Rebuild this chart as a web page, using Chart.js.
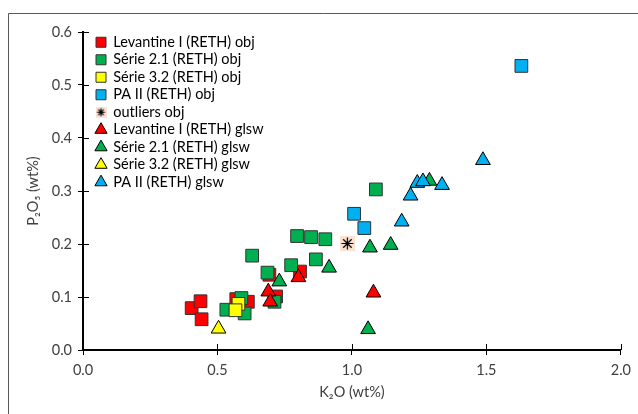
<!DOCTYPE html>
<html>
<head>
<meta charset="utf-8">
<script src="https://cdn.jsdelivr.net/npm/chart.js@4.4.1/dist/chart.umd.min.js"></script>
<style>
  html, body { margin: 0; padding: 0; background: #ffffff; }
  #wrap { position: relative; width: 638px; height: 414px; }
</style>
</head>
<body>
<div id="wrap"><canvas id="chartK2O"></canvas></div>
<script>
// series names (legend order)
const seriesNames = [
  'Levantine I (RETH) obj', 'Série 2.1 (RETH) obj', 'Série 3.2 (RETH) obj', 'PA II (RETH) obj',
  'outliers obj',
  'Levantine I (RETH) glsw', 'Série 2.1 (RETH) glsw', 'Série 3.2 (RETH) glsw', 'PA II (RETH) glsw'
];

// K2O (x) / P2O5 (y), wt%
const levObjX = [0.404, 0.437, 0.441, 0.570, 0.613, 0.693, 0.807, 0.718];
const levObjY = [0.079, 0.092, 0.058, 0.096, 0.091, 0.142, 0.148, 0.101];
const s21ObjX = [0.533, 0.589, 0.601, 0.629, 0.686, 0.712, 0.774, 0.866, 0.796, 0.848, 0.901, 1.089];
const s21ObjY = [0.076, 0.098, 0.069, 0.178, 0.146, 0.091, 0.160, 0.171, 0.215, 0.213, 0.209, 0.303];
const s32ObjX = [0.578, 0.567];
const s32ObjY = [0.087, 0.075];
const paObjX = [1.008, 1.046, 1.630];
const paObjY = [0.257, 0.230, 0.536];
const outX = [0.983];
const outY = [0.201];
const levGlX = [0.689, 0.696, 0.801, 1.080];
const levGlY = [0.110, 0.091, 0.137, 0.108];
const s21GlX = [0.730, 0.915, 1.067, 1.144, 1.060, 1.288];
const s21GlY = [0.129, 0.155, 0.193, 0.198, 0.039, 0.319];
const s32GlX = [0.504];
const s32GlY = [0.040];
const paGlX = [1.185, 1.218, 1.243, 1.264, 1.335, 1.487];
const paGlY = [0.242, 0.291, 0.315, 0.318, 0.311, 0.358];

const yTicks = [0, 0.1, 0.2, 0.3, 0.4, 0.5, 0.6];
const xTicks = [0, 0.5, 1.0, 1.5, 2.0];

const RED = '#FF0000', GREEN = '#00B050', YELLOW = '#FFFF00', BLUE = '#00B0F0';
const FONT = "Lato, 'Noto Sans', sans-serif";

function pts(xs, ys) {
  return xs.map(function(x, i) { return { x: x, y: ys[i] }; });
}

// asterisk marker on a peach square
function starIcon(size) {
  const c = document.createElement('canvas');
  c.width = size; c.height = size;
  const g = c.getContext('2d');
  g.fillStyle = '#FBE3D4';
  g.fillRect(0, 0, size, size);
  g.strokeStyle = '#000';
  g.lineWidth = 1.2;
  const m = size / 2, r = size / 2 - 1.5;
  g.beginPath();
  for (let k = 0; k < 4; k++) {
    const a = k * Math.PI / 4;
    g.moveTo(m - r * Math.cos(a), m - r * Math.sin(a));
    g.lineTo(m + r * Math.cos(a), m + r * Math.sin(a));
  }
  g.stroke();
  return c;
}
const starPoint = starIcon(15);
const starLegend = starIcon(11);

function series(i, xs, ys, color, shape) {
  const tri = shape === 'triangle';
  return {
    label: seriesNames[i],
    data: pts(xs, ys),
    pointStyle: shape,
    backgroundColor: color,
    borderColor: tri ? '#000000' : '#333333',
    borderWidth: 1,
    pointRadius: tri ? 8.5 : 9,
    pointHoverRadius: tri ? 8.5 : 9,
    order: 20 - i   // later series on top, like the original
  };
}

const datasets = [
  series(0, levObjX, levObjY, RED, 'rect'),
  series(1, s21ObjX, s21ObjY, GREEN, 'rect'),
  series(2, s32ObjX, s32ObjY, YELLOW, 'rect'),
  series(3, paObjX, paObjY, BLUE, 'rect'),
  Object.assign(series(4, outX, outY, '#FBE3D4', starPoint), { borderWidth: 0 }),
  series(5, levGlX, levGlY, RED, 'triangle'),
  series(6, s21GlX, s21GlY, GREEN, 'triangle'),
  series(7, s32GlX, s32GlY, YELLOW, 'triangle'),
  series(8, paGlX, paGlY, BLUE, 'triangle')
];

// outer frame of the chart box
const frame = {
  id: 'frame',
  beforeDraw(chart) {
    const ctx = chart.ctx;
    ctx.save();
    ctx.strokeStyle = '#595959';
    ctx.lineWidth = 1;
    ctx.beginPath();
    ctx.moveTo(8.5, chart.height);
    ctx.lineTo(8.5, 13.5);
    ctx.lineTo(chart.width, 13.5);
    ctx.stroke();
    ctx.restore();
  }
};

// tick marks that cross the axis (inner half)
const crossTicks = {
  id: 'crossTicks',
  beforeDatasetsDraw(chart) {
    const { ctx, scales: { x, y } } = chart;
    ctx.save();
    ctx.strokeStyle = '#000';
    ctx.lineWidth = 1;
    ctx.beginPath();
    x.ticks.forEach(function(t) {
      const px = Math.round(x.getPixelForValue(t.value)) + 0.5;
      ctx.moveTo(px, y.bottom);
      ctx.lineTo(px, y.bottom - 6);
    });
    y.ticks.forEach(function(t) {
      const py = Math.round(y.getPixelForValue(t.value)) + 0.5;
      ctx.moveTo(x.left, py);
      ctx.lineTo(x.left + 6, py);
    });
    ctx.stroke();
    ctx.restore();
  }
};

// legend sits inside the plot, top-left
const legendSpot = {
  id: 'legendSpot',
  afterLayout(chart) {
    const lg = chart.legend;
    if (!lg) return;
    const dx = chart.chartArea.left + 10 - lg.left;
    const dy = chart.chartArea.top - lg.top;
    lg.left += dx; lg.right += dx;
    lg.top += dy; lg.bottom += dy;
  }
};

const ctx = document.getElementById('chartK2O');
new Chart(ctx, {
  type: 'scatter',
  data: { datasets: datasets },
  plugins: [frame, crossTicks, legendSpot],
  options: {
    responsive: true,
    maintainAspectRatio: false,
    animation: false,
    layout: { padding: { left: 0, top: 32, right: 15.5, bottom: 0 } },
    plugins: {
      legend: {
        position: 'chartArea',
        align: 'start',
        labels: {
          usePointStyle: true,
          boxWidth: 10,
          boxHeight: 10,
          padding: 3,
          color: '#000000',
          font: { family: FONT, size: 14.5 },
          sort: function(a, b) { return a.datasetIndex - b.datasetIndex; },
          generateLabels: function(chart) {
            const items = Chart.defaults.plugins.legend.labels.generateLabels(chart);
            items.forEach(function(it) {
              if (it.pointStyle === starPoint) it.pointStyle = starLegend;
            });
            return items;
          }
        }
      },
      tooltip: { enabled: false }
    },
    scales: {
      x: {
        type: 'linear',
        min: xTicks[0],
        max: xTicks[xTicks.length - 1],
        afterFit: function(scale) { scale.height = 64; },
        afterBuildTicks: function(scale) { scale.ticks = xTicks.map(function(v) { return { value: v }; }); },
        grid: { drawOnChartArea: false, color: '#000000', tickLength: 5, lineWidth: 1 },
        border: { display: true, color: '#000000', width: 2 },
        ticks: {
          padding: 7,
          color: '#404040',
          font: { family: FONT, size: 14.5 },
          callback: function(v) { return Number(v).toFixed(1); }
        },
        title: {
          display: true,
          text: 'K₂O (wt%)',
          color: '#404040',
          font: { family: FONT, size: 14.5 },
          padding: { top: 0, bottom: 13 }
        }
      },
      y: {
        type: 'linear',
        min: yTicks[0],
        max: yTicks[yTicks.length - 1],
        afterFit: function(scale) { scale.width = 83; },
        afterBuildTicks: function(scale) { scale.ticks = yTicks.map(function(v) { return { value: v }; }); },
        grid: { drawOnChartArea: false, color: '#000000', tickLength: 5, lineWidth: 1 },
        border: { display: true, color: '#000000', width: 2 },
        ticks: {
          padding: 6,
          color: '#404040',
          font: { family: FONT, size: 14.5 },
          callback: function(v) { return Number(v).toFixed(1); }
        },
        title: {
          display: true,
          text: 'P₂O₅ (wt%)',
          color: '#404040',
          font: { family: FONT, size: 14.5 },
          padding: { top: 25, bottom: 0 }
        }
      }
    }
  }
});
</script>
</body>
</html>
